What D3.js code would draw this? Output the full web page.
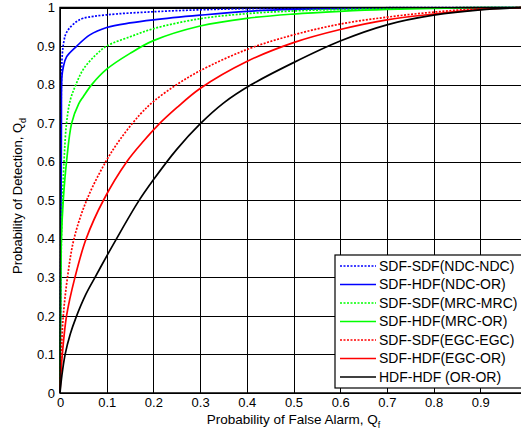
<!DOCTYPE html>
<html>
<head>
<meta charset="utf-8">
<script src="https://cdn.jsdelivr.net/npm/d3@7"></script>
<style>
  body { margin: 0; background: #fff; }
  svg { display: block; font-family: "Liberation Sans", Arial, sans-serif; }
</style>
</head>
<body>
<svg id="chart" width="521" height="434"></svg>
<script>
// ROC curves, [Qf, Qd]
const sdfNdcNdc = [[0,0],[0.002,0.5],[0.003,0.8],[0.005,0.88],[0.008,0.91],[0.012,0.93],[0.02,0.946],[0.035,0.963],[0.05,0.972],[0.1,0.981],[0.2,0.989],[0.3,0.994],[0.4,0.997],[0.6,0.999],[1,1]];
const sdfNdcOr = [[0,0],[0.002,0.4],[0.003,0.7],[0.004,0.82],[0.007,0.845],[0.014,0.872],[0.036,0.9],[0.064,0.929],[0.1,0.948],[0.15,0.96],[0.2,0.968],[0.3,0.98],[0.4,0.99],[0.5,0.995],[0.7,0.998],[1,1]];
const sdfMrcMrc = [[0,0],[0.002,0.3],[0.004,0.45],[0.0086,0.6],[0.014,0.7],[0.022,0.76],[0.034,0.8],[0.05,0.84],[0.075,0.875],[0.1,0.9],[0.15,0.924],[0.2,0.945],[0.3,0.971],[0.4,0.984],[0.5,0.991],[0.6,0.995],[0.8,0.999],[1,1]];
const sdfMrcOr = [[0,0],[0.001,0.2],[0.003,0.4],[0.007,0.5],[0.014,0.6],[0.025,0.7],[0.04,0.75],[0.05,0.769],[0.068,0.8],[0.1,0.84],[0.15,0.881],[0.2,0.914],[0.3,0.952],[0.4,0.972],[0.5,0.983],[0.6,0.99],[0.7,0.995],[0.85,0.999],[1,1]];
const sdfEgcEgc = [[0,0],[0.001,0.06],[0.003,0.11],[0.007,0.2],[0.016,0.3],[0.03,0.4],[0.057,0.5],[0.098,0.6],[0.13,0.66],[0.171,0.722],[0.2,0.756],[0.25,0.8],[0.3,0.836],[0.4,0.891],[0.5,0.929],[0.6,0.957],[0.7,0.975],[0.8,0.988],[0.9,0.997],[1,1]];
const sdfEgcOr = [[0,0],[0.002,0.05],[0.005,0.1],[0.014,0.2],[0.032,0.3],[0.056,0.4],[0.093,0.5],[0.143,0.6],[0.18,0.655],[0.21,0.695],[0.25,0.74],[0.3,0.79],[0.4,0.86],[0.5,0.909],[0.6,0.943],[0.7,0.968],[0.8,0.983],[0.9,0.995],[1,1]];
const hdfOrOr = [[0,0],[0.004,0.045],[0.011,0.1],[0.022,0.153],[0.034,0.195],[0.055,0.255],[0.075,0.3],[0.1,0.355],[0.12,0.398],[0.168,0.497],[0.2,0.553],[0.25,0.632],[0.3,0.698],[0.35,0.752],[0.41,0.8],[0.5,0.857],[0.6,0.913],[0.7,0.955],[0.8,0.98],[0.9,0.994],[1,1]];

const seriesNames = ['SDF-SDF(NDC-NDC)','SDF-HDF(NDC-OR)','SDF-SDF(MRC-MRC)','SDF-HDF(MRC-OR)','SDF-SDF(EGC-EGC)','SDF-HDF(EGC-OR)','HDF-HDF (OR-OR)'];
const seriesData = [sdfNdcNdc, sdfNdcOr, sdfMrcMrc, sdfMrcOr, sdfEgcEgc, sdfEgcOr, hdfOrOr];
const seriesColors = ['#0000ff','#0000ff','#00ff00','#00ff00','#ff0000','#ff0000','#000000'];
const seriesDotted = [true,false,true,false,true,false,false];

const xTicks = [0,0.1,0.2,0.3,0.4,0.5,0.6,0.7,0.8,0.9];
const yTicks = [0,0.1,0.2,0.3,0.4,0.5,0.6,0.7,0.8,0.9,1];

let svg = d3.select('#chart');
let plotLeft = 60, plotTop = 7.5, plotRight = 527, plotBottom = 393;

let xScale = d3.scaleLinear().domain([0,1]).range([plotLeft,plotRight]);
let yScale = d3.scaleLinear().domain([0,1]).range([plotBottom,plotTop]);

let fmt = d => (d===0||d===1) ? String(d) : d.toFixed(1);

//网格+刻度
let xAxis = svg.append('g')
    .attr('transform',`translate(0,${plotBottom})`)
    .call(d3.axisBottom(xScale).tickValues(xTicks).tickSize(-(plotBottom-plotTop)).tickPadding(5).tickFormat(fmt));
let yAxis = svg.append('g')
    .attr('transform',`translate(${plotLeft},0)`)
    .call(d3.axisLeft(yScale).tickValues(yTicks).tickSize(-(plotRight-plotLeft)).tickPadding(5).tickFormat(fmt));

[xAxis,yAxis].forEach(function(ax){
    ax.select('.domain').remove();
    ax.selectAll('line').attr('stroke','#000').attr('stroke-width',1).attr('shape-rendering','crispEdges');
    ax.selectAll('text').attr('fill','#000').style('font-size','13px').style('font-family','"Liberation Sans", Arial, sans-serif');
});

//曲线
let line = d3.line()
    .x(d => xScale(d[0]))
    .y(d => yScale(d[1]))
    .curve(d3.curveCatmullRom.alpha(0.5));

svg.append('g')
    .selectAll('path')
    .data(seriesData)
    .enter()
    .append('path')
    .attr('d', d => line(d))
    .attr('fill','none')
    .attr('stroke',(d,i) => seriesColors[i])
    .attr('stroke-width',1.7)
    .attr('stroke-dasharray',(d,i) => seriesDotted[i] ? '2,1.5' : null);

//坐标框
svg.append('rect')
    .attr('x',plotLeft).attr('y',plotTop)
    .attr('width',plotRight-plotLeft).attr('height',plotBottom-plotTop)
    .attr('fill','none').attr('stroke','#000').attr('stroke-width',1.5);

//坐标轴标题
let xTitle = svg.append('text')
    .attr('x',(plotLeft+plotRight)/2).attr('y',424)
    .attr('text-anchor','middle').style('font-size','13.5px')
    .text('Probability of False Alarm, Q');
xTitle.append('tspan').attr('dy',4).style('font-size','9px').text('f');

let yTitle = svg.append('text')
    .attr('transform','translate(22,196) rotate(-90)')
    .attr('text-anchor','middle').style('font-size','13px')
    .text('Probability of Detection, Q');
yTitle.append('tspan').attr('dy',4).style('font-size','9px').text('d');

//图例
let legend = svg.append('g');
legend.append('rect')
    .attr('x',335).attr('y',255).attr('width',200).attr('height',133)
    .attr('fill','#fff').attr('stroke','#000').attr('stroke-width',1.2);

let items = legend.selectAll('g.item')
    .data(seriesNames)
    .enter()
    .append('g')
    .attr('class','item')
    .attr('transform',(d,i) => `translate(0,${266+i*18.5})`);
items.append('line')
    .attr('x1',340).attr('x2',376)
    .attr('stroke',(d,i) => seriesColors[i])
    .attr('stroke-width',1.7)
    .attr('stroke-dasharray',(d,i) => seriesDotted[i] ? '2,1.5' : null);
items.append('text')
    .attr('x',379).attr('dy','0.35em')
    .style('font-size','14px')
    .text(d => d);
</script>
</body>
</html>
